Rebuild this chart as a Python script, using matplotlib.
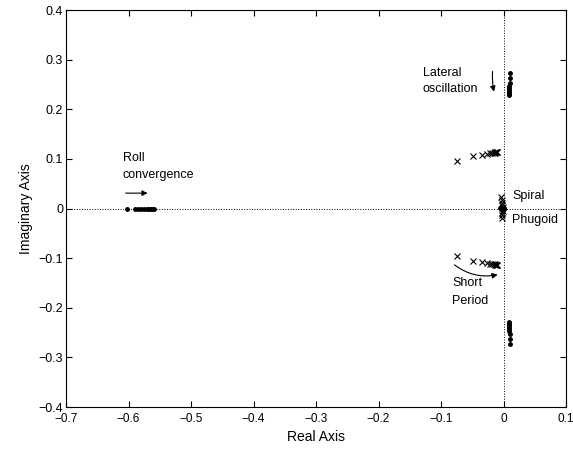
import numpy as np
import matplotlib.pyplot as plt

plt.rcParams['font.family'] = ['Liberation Sans', 'DejaVu Sans']

# root locus points
roll_re = [-0.603, -0.590, -0.585, -0.580, -0.575, -0.571, -0.567, -0.564, -0.562, -0.560]
roll_im = [0.0, 0.0, 0.0, 0.0, 0.0, 0.0, 0.0, 0.0, 0.0, 0.0]

lat_re = [0.010, 0.010, 0.010, 0.009, 0.009, 0.009, 0.009, 0.009, 0.009, 0.009]
lat_im = [0.274, 0.263, 0.252, 0.246, 0.242, 0.238, 0.235, 0.233, 0.231, 0.229]

sp_re = [-0.074, -0.049, -0.035, -0.027, -0.021, -0.018, -0.016, -0.014, -0.013, -0.012, -0.011, -0.010]
sp_im = [0.095, 0.105, 0.108, 0.110, 0.111, 0.112, 0.112, 0.112, 0.113, 0.113, 0.113, 0.113]

spiral_re = [-0.004, -0.003, -0.002, -0.002, -0.001, -0.001, -0.002, -0.003, -0.002]
spiral_im = [0.024, 0.018, 0.012, 0.007, 0.003, -0.004, -0.009, -0.014, -0.020]

origin_re = [-0.006, -0.004, -0.003, -0.002, -0.001, 0.000, 0.001]
origin_im = [0.002, 0.001, 0.0, -0.001, 0.0, 0.001, -0.001]

fig = plt.figure(figsize=(5.73, 4.54), dpi=100)
ax = fig.add_axes([0.1152, 0.1035, 0.8726, 0.8744])

ax.axhline(0, color='k', ls=':', lw=0.7)
ax.axvline(0, color='k', ls=':', lw=0.7)

dot = dict(ls='none', marker='.', color='k', ms=5)
cross = dict(ls='none', marker='x', color='k', ms=4, mew=0.8)

ax.plot(roll_re, roll_im, **dot)
ax.plot(lat_re, lat_im, **dot)
ax.plot(lat_re, [-v for v in lat_im], **dot)
ax.plot(sp_re, sp_im, **cross)
ax.plot(sp_re, [-v for v in sp_im], **cross)
ax.plot(spiral_re, spiral_im, **cross)
ax.plot(origin_re, origin_im, **dot)

fs = 9
arrow = dict(arrowstyle='-|>', color='k', lw=0.8, mutation_scale=8)

ax.text(-0.609, 0.102, 'Roll', fontsize=fs, va='center', ha='left')
ax.text(-0.609, 0.068, 'convergence', fontsize=fs, va='center', ha='left')
ax.annotate('', xy=(-0.565, 0.031), xytext=(-0.609, 0.031), arrowprops=arrow)

ax.text(-0.129, 0.273, 'Lateral', fontsize=fs, va='center', ha='left')
ax.text(-0.129, 0.240, 'oscillation', fontsize=fs, va='center', ha='left')
ax.annotate('', xy=(-0.014, 0.230), xytext=(-0.017, 0.282),
            arrowprops=dict(arrow, connectionstyle='arc3,rad=0.1'))

ax.annotate('', xy=(-0.005, -0.132), xytext=(-0.082, -0.110),
            arrowprops=dict(arrow, connectionstyle='arc3,rad=0.25'))
ax.text(-0.082, -0.151, 'Short', fontsize=fs, va='center', ha='left')
ax.text(-0.082, -0.187, 'Period', fontsize=fs, va='center', ha='left')

ax.text(0.0135, 0.025, 'Spiral', fontsize=fs, va='center', ha='left')
ax.text(0.0135, -0.023, 'Phugoid', fontsize=fs, va='center', ha='left')

ax.set_xlim(-0.7, 0.1)
ax.set_ylim(-0.4, 0.4)
ax.set_xticks(np.arange(-0.7, 0.11, 0.1))
ax.set_yticks(np.arange(-0.4, 0.41, 0.1))
ax.set_xticklabels(['\u22120.7', '\u22120.6', '\u22120.5', '\u22120.4', '\u22120.3', '\u22120.2', '\u22120.1', '0', '0.1'])
ax.set_yticklabels(['\u22120.4', '\u22120.3', '\u22120.2', '\u22120.1', '0', '0.1', '0.2', '0.3', '0.4'])
ax.tick_params(direction='in', top=True, right=True, length=4)
ax.tick_params(axis='y', pad=2, labelsize=9)
ax.tick_params(axis='x', pad=4, labelsize=8.5)
ax.set_xlabel('Real Axis', fontsize=10)
ax.set_ylabel('Imaginary Axis', fontsize=10)

fig.savefig('out.png', dpi=100)
